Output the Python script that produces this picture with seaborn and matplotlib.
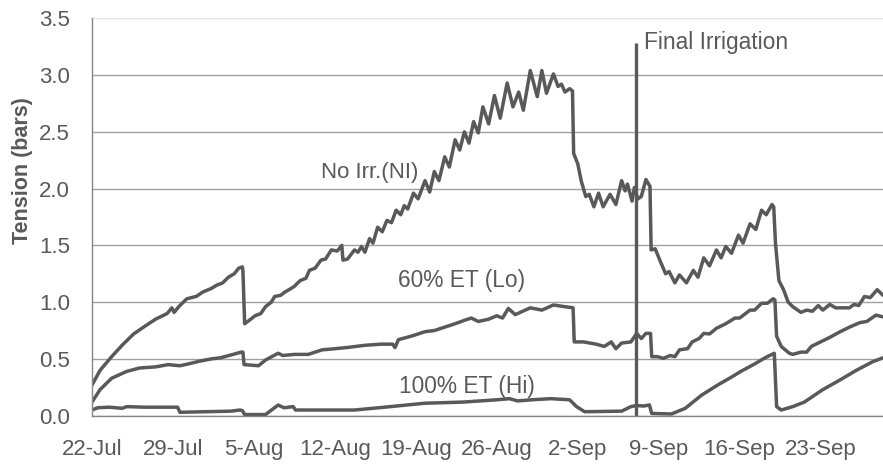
import pandas as pd
import numpy as np
import seaborn as sns
import matplotlib.pyplot as plt
import matplotlib.dates as mdates
from matplotlib.ticker import FixedLocator, FuncFormatter

# days after 22-Jul and soil tension (bars)
ni_day = [0.0, 0.7, 1.7, 2.6, 3.6, 4.6, 5.5, 6.5, 6.9, 7.1, 7.5, 8.2, 9.0, 9.6, 10.3, 10.8,
          11.3, 11.8, 12.3, 12.7, 13.0, 13.05, 13.2, 13.6, 14.1, 14.6, 15.0, 15.5, 15.8, 16.3,
          16.7, 17.2, 17.5, 18.0, 18.5, 18.8, 19.3, 19.8, 20.2, 20.7, 21.2, 21.6, 21.7, 22.1,
          22.7, 23.0, 23.3, 23.6, 24.0, 24.3, 24.7, 25.1, 25.5, 25.9, 26.3, 26.7, 27.0, 27.3,
          27.8, 28.2, 28.8, 29.2, 29.6, 30.0, 30.5, 30.9, 31.4, 31.8, 32.2, 32.6, 33.0, 33.4,
          33.8, 34.3, 34.8, 35.3, 35.9, 36.4, 36.9, 37.3, 37.9, 38.5, 38.9, 39.3, 39.9, 40.3,
          40.6, 40.9, 41.3, 41.55, 41.65, 42.0, 42.3, 42.7, 43.0, 43.4, 43.8, 44.2, 44.8, 45.3,
          45.8, 46.1, 46.3, 46.7, 46.9, 47.2, 47.5, 47.9, 48.25, 48.35, 48.7, 49.1, 49.6, 49.9,
          50.4, 50.8, 51.4, 52.0, 52.4, 52.9, 53.4, 54.0, 54.4, 54.8, 55.3, 55.9, 56.3, 56.9,
          57.4, 57.9, 58.3, 58.8, 58.95, 59.1, 59.4, 59.8, 60.2, 60.6, 61.3, 61.8, 62.3, 62.8,
          63.2, 63.8, 64.3, 65.0, 65.5, 65.9, 66.3, 66.8, 67.3, 67.9, 68.4]
ni_val = [0.27, 0.40, 0.52, 0.62, 0.72, 0.79, 0.85, 0.90, 0.95, 0.91, 0.96, 1.03, 1.05, 1.09, 1.12, 1.15,
          1.17, 1.22, 1.25, 1.30, 1.31, 1.28, 0.81, 0.84, 0.88, 0.90, 0.96, 1.00, 1.05, 1.06,
          1.09, 1.12, 1.14, 1.19, 1.21, 1.28, 1.30, 1.37, 1.38, 1.46, 1.45, 1.50, 1.37, 1.38,
          1.46, 1.44, 1.49, 1.44, 1.56, 1.52, 1.66, 1.62, 1.72, 1.70, 1.81, 1.77, 1.85, 1.82,
          1.96, 1.91, 2.07, 1.97, 2.15, 2.07, 2.28, 2.19, 2.43, 2.34, 2.50, 2.40, 2.59, 2.49,
          2.72, 2.57, 2.82, 2.62, 2.93, 2.72, 2.85, 2.69, 3.04, 2.81, 3.04, 2.84, 3.01, 2.90,
          2.92, 2.85, 2.88, 2.86, 2.31, 2.22, 2.07, 1.93, 1.95, 1.84, 1.96, 1.84, 1.95, 1.86,
          2.07, 1.98, 2.04, 1.89, 2.01, 1.91, 1.93, 2.08, 2.02, 1.46, 1.47, 1.37, 1.25, 1.27,
          1.17, 1.24, 1.17, 1.28, 1.22, 1.39, 1.32, 1.46, 1.39, 1.49, 1.43, 1.59, 1.52, 1.69,
          1.64, 1.81, 1.77, 1.86, 1.84, 1.52, 1.19, 1.11, 1.00, 0.96, 0.91, 0.93, 0.92, 0.97,
          0.93, 0.98, 0.95, 0.95, 0.95, 0.98, 0.97, 1.05, 1.04, 1.11, 1.06]

lo_day = [0.0, 0.7, 1.7, 3.0, 4.1, 5.5, 6.6, 7.6, 8.5, 9.3, 10.3, 11.1, 12.2, 12.9, 13.05, 13.15,
          14.4, 15.0, 16.1, 16.5, 17.5, 18.7, 19.9, 21.0, 22.0, 23.6, 25.0, 26.0, 26.2, 26.5,
          27.6, 28.8, 29.6, 30.5, 31.4, 32.2, 32.8, 33.4, 34.3, 35.0, 35.5, 36.0, 36.6, 37.9,
          38.9, 39.9, 40.9, 41.6, 41.7, 42.5, 43.6, 44.3, 44.9, 45.3, 45.8, 46.6, 47.1, 47.5,
          47.9, 48.3, 48.4, 48.9, 49.4, 50.0, 50.4, 50.8, 51.5, 51.9, 52.5, 52.9, 53.4, 54.0,
          54.8, 55.6, 56.0, 56.9, 57.3, 57.9, 58.4, 58.9, 59.05, 59.2, 59.6, 60.3, 60.6, 61.3,
          61.8, 62.2, 63.0, 63.8, 64.7, 65.5, 66.4, 67.0, 67.8, 68.4]
lo_val = [0.12, 0.23, 0.33, 0.39, 0.42, 0.43, 0.45, 0.44, 0.46, 0.48, 0.50, 0.51, 0.54, 0.56, 0.56, 0.45,
          0.44, 0.49, 0.55, 0.53, 0.54, 0.54, 0.58, 0.59, 0.60, 0.62, 0.63, 0.63, 0.60, 0.67,
          0.70, 0.74, 0.75, 0.78, 0.81, 0.84, 0.86, 0.83, 0.85, 0.88, 0.86, 0.945, 0.89, 0.95,
          0.93, 0.975, 0.96, 0.95, 0.65, 0.65, 0.63, 0.61, 0.65, 0.59, 0.64, 0.65, 0.725, 0.68,
          0.725, 0.725, 0.52, 0.52, 0.505, 0.53, 0.52, 0.58, 0.59, 0.65, 0.68, 0.725, 0.72, 0.77,
          0.81, 0.86, 0.86, 0.93, 0.93, 0.99, 0.99, 1.03, 1.02, 0.70, 0.61, 0.55, 0.54, 0.56,
          0.56, 0.61, 0.65, 0.69, 0.74, 0.78, 0.82, 0.83, 0.886, 0.87]

hi_day = [0.0, 0.5, 1.5, 2.6, 3.0, 4.5, 7.4, 7.6, 12.0, 12.8, 13.0, 13.2, 15.0, 16.1, 16.6, 17.4,
          17.6, 22.7, 25.3, 28.8, 32.1, 35.0, 36.1, 36.8, 38.0, 39.7, 41.3, 41.9, 42.6, 45.8,
          46.6, 47.1, 47.7, 48.2, 48.4, 50.1, 51.3, 52.7, 54.1, 55.3, 56.1, 57.2, 58.2, 59.0,
          59.2, 59.6, 60.6, 61.6, 63.2, 64.6, 66.1, 67.5, 68.4]
hi_val = [0.05, 0.07, 0.075, 0.065, 0.08, 0.075, 0.075, 0.03, 0.04, 0.05, 0.045, 0.01, 0.01, 0.094, 0.07, 0.08,
          0.05, 0.05, 0.075, 0.11, 0.12, 0.14, 0.15, 0.13, 0.14, 0.15, 0.14, 0.08, 0.035, 0.04,
          0.08, 0.09, 0.085, 0.095, 0.02, 0.015, 0.065, 0.18, 0.27, 0.34, 0.39, 0.45, 0.51, 0.55,
          0.08, 0.05, 0.08, 0.12, 0.23, 0.31, 0.40, 0.475, 0.51]

tick_labels = ["22-Jul", "29-Jul", "5-Aug", "12-Aug", "19-Aug", "26-Aug", "2-Sep", "9-Sep", "16-Sep", "23-Sep"]
final_irrigation_day = 47.05
end_day = 68.4

start = pd.Timestamp("2010-07-22")
gray = "#595959"
axis_gray = "#868686"

def to_dates(days):
    return start + pd.to_timedelta(np.array(days), unit="D")

df = pd.concat([
    pd.DataFrame({"date": to_dates(ni_day), "tension": ni_val, "series": "NI"}),
    pd.DataFrame({"date": to_dates(lo_day), "tension": lo_val, "series": "Lo"}),
    pd.DataFrame({"date": to_dates(hi_day), "tension": hi_val, "series": "Hi"}),
])

sns.set_style("white")
plt.rcParams["font.family"] = ["Liberation Sans", "DejaVu Sans"]

fig = plt.figure(figsize=(8.83, 4.66), dpi=100)
ax = fig.add_axes([92 / 883, 1 - 415.7 / 466, 1 - 92 / 883, (415.7 - 18.3) / 466])

sns.lineplot(data=df, x="date", y="tension", hue="series", units="series", estimator=None,
             palette=[gray, gray, gray], legend=False, linewidth=2.5, ax=ax)

ax.set_ylim(0, 3.5)
ax.set_xlim(start, start + pd.Timedelta(days=end_day))
ax.set_yticks(np.arange(0, 3.51, 0.5))
ax.yaxis.set_major_formatter(FuncFormatter(lambda v, p: f"{v:.1f}"))

tick_dates = [pd.to_datetime(t + "-2010", format="%d-%b-%Y") for t in tick_labels]
ax.xaxis.set_major_locator(FixedLocator(mdates.date2num(tick_dates)))
ax.set_xticklabels(tick_labels)
ax.xaxis.set_minor_locator(mdates.DayLocator())

ax.grid(axis="y", color="#a0a0a0", linewidth=1)
for line, v in zip(ax.get_ygridlines(), ax.get_yticks()):
    if v >= 3.5:
        line.set_color("#e4e4e4")
ax.set_axisbelow(True)

for s in ["top", "right"]:
    ax.spines[s].set_visible(False)
for s in ["left", "bottom"]:
    ax.spines[s].set_color(axis_gray)
    ax.spines[s].set_linewidth(1)

ax.tick_params(axis="both", which="both", direction="out", length=7, width=1, color=axis_gray,
               labelcolor=gray, labelsize=16)
ax.tick_params(axis="x", which="both", pad=10)
ax.tick_params(axis="y", pad=9)

ax.set_xlabel("")
ax.set_ylabel("Tension (bars)", fontsize=15.5, fontweight="bold", color=gray)
ax.yaxis.set_label_coords(-0.0746, 0.616)

# final irrigation marker
fi = start + pd.Timedelta(days=final_irrigation_day)
ax.vlines(fi, 0, 3.28, color=gray, linewidth=2.4)
ax.text(start + pd.Timedelta(days=47.7), 3.29, "Final Irrigation", fontsize=16.4, color=gray,
        ha="left", va="center")

ax.text(start + pd.Timedelta(days=24.0), 2.145, "No Irr.(NI)", fontsize=16, color=gray, ha="center", va="center")
ax.text(start + pd.Timedelta(days=32.0), 1.195, "60% ET (Lo)", fontsize=16.4, color=gray, ha="center", va="center")
ax.text(start + pd.Timedelta(days=32.4), 0.255, "100% ET (Hi)", fontsize=16.4, color=gray, ha="center", va="center")

fig.savefig("out.png", dpi=100)
